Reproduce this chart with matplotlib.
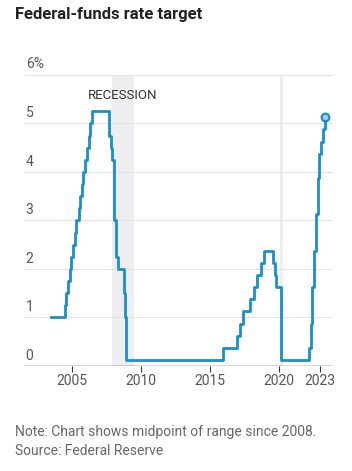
import numpy as np
import pandas as pd
import matplotlib
matplotlib.use("Agg")
import matplotlib.pyplot as plt

# fed-funds target (midpoint of range since 2008), change dates
change_dates = [
    "2003-06-25", "2004-06-30", "2004-08-10", "2004-09-21", "2004-11-10", "2004-12-14",
    "2005-02-02", "2005-03-22", "2005-05-03", "2005-06-30", "2005-08-09", "2005-09-20",
    "2005-11-01", "2005-12-13", "2006-01-31", "2006-03-28", "2006-05-10", "2006-06-29",
    "2007-09-18", "2007-10-31", "2007-12-11", "2008-01-22", "2008-01-30", "2008-03-18",
    "2008-04-30", "2008-10-08", "2008-10-29", "2008-12-16", "2015-12-16", "2016-12-14",
    "2017-03-15", "2017-06-14", "2017-12-13", "2018-03-21", "2018-06-13", "2018-09-26",
    "2018-12-19", "2019-07-31", "2019-09-18", "2019-10-30", "2020-03-03", "2020-03-15",
    "2022-03-16", "2022-05-04", "2022-06-15", "2022-07-27", "2022-09-21", "2022-11-02",
    "2022-12-14", "2023-02-01", "2023-03-22", "2023-05-03",
]
rates = [
    1.00, 1.25, 1.50, 1.75, 2.00, 2.25,
    2.50, 2.75, 3.00, 3.25, 3.50, 3.75,
    4.00, 4.25, 4.50, 4.75, 5.00, 5.25,
    4.75, 4.50, 4.25, 3.50, 3.00, 2.25,
    2.00, 1.50, 1.00, 0.125, 0.375, 0.625,
    0.875, 1.125, 1.375, 1.625, 1.875, 2.125,
    2.375, 2.125, 1.875, 1.625, 1.125, 0.125,
    0.375, 0.875, 1.625, 2.375, 3.125, 3.875,
    4.375, 4.625, 4.875, 5.125,
]
recessions = [("2007-12-01", "2009-06-30"), ("2020-02-01", "2020-04-30")]
y_ticks = [0, 1, 2, 3, 4, 5, 6]
y_labels = ["0", "1", "2", "3", "4", "5", "6%"]
x_ticks = [2005, 2010, 2015, 2020, 2023]


def dec_year(s):
    d = pd.Timestamp(s)
    return d.year + (d.dayofyear - 1) / 365.0


x = np.array([dec_year(d) for d in change_dates])
y = np.array(rates)

plt.rcParams['font.family'] = ['Roboto', 'DejaVu Sans']
blue = "#1b8fc6"
grey_txt = "#555555"

fig = plt.figure(figsize=(3.52, 4.71), dpi=100)
ax = fig.add_axes([0.071, 0.223, 0.875, 0.618])

for a, b in recessions:
    ax.axvspan(dec_year(a), dec_year(b), color="#eeeef0", lw=0, zorder=0)

for v in y_ticks[1:]:
    ax.axhline(v, color="#e2e2e2", lw=0.8, zorder=1)
ax.axhline(0, color="#333333", lw=1.0, zorder=3)

ax.step(x, y, where="post", color=blue, lw=2.0, zorder=4)
ax.plot(x[-1], y[-1], "o", ms=5.5, mfc="#9fd3ee", mec=blue, mew=1.6, zorder=5)

ax.set_xlim(2001.6, 2023.95)
ax.set_ylim(0, 6)

for v, lab in zip(y_ticks, y_labels):
    ax.text(2001.65, v + 0.07, lab, ha="left", va="bottom", fontsize=10,
            color=grey_txt)

ax.text(dec_year("2008-09-01"), 5.58, "RECESSION", ha="center", va="center",
        fontsize=9.5, color="#333333")

ax.set_yticks([])
ax.set_xticks(x_ticks)
ax.set_xticklabels([str(t) for t in x_ticks], fontsize=10, color=grey_txt)
ax.tick_params(axis="x", length=4, width=0.8, color="#333333", pad=2)
for s in ax.spines.values():
    s.set_visible(False)

fig.text(0.043, 0.970, "Federal-funds rate target", ha="left", va="center",
         fontsize=12, fontweight="bold", color="#222222")
fig.text(0.043, 0.083, "Note: Chart shows midpoint of range since 2008.", ha="left",
         va="center", fontsize=10, color="#666666")
fig.text(0.043, 0.043, "Source: Federal Reserve", ha="left", va="center",
         fontsize=10, color="#666666")

fig.savefig("out.png", dpi=100, facecolor="white")
